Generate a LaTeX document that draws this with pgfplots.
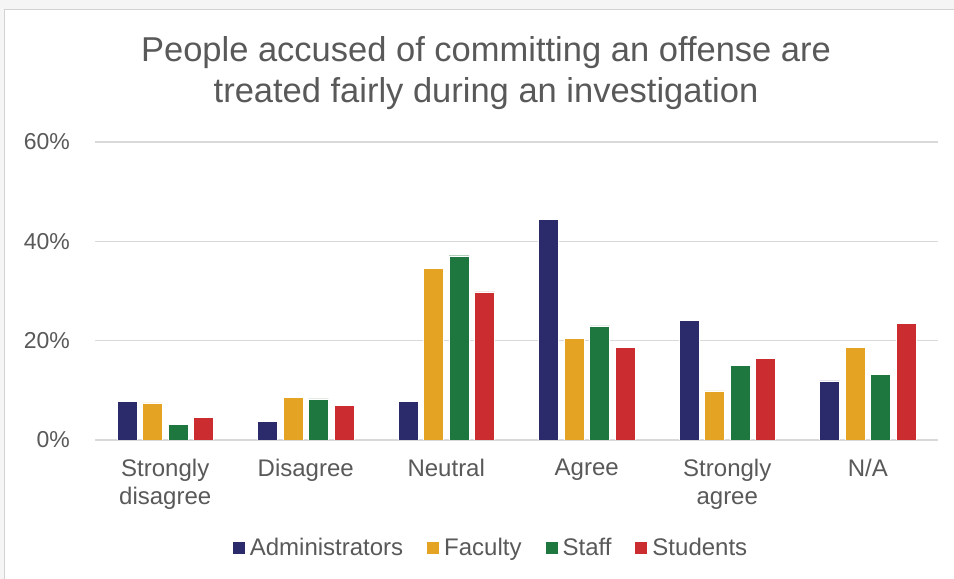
\documentclass[border=0pt]{standalone}
\usepackage{pgfplots}
\pgfplotsset{compat=1.18}
\usepackage{fontspec}
\setmainfont{Liberation Sans}
\definecolor{adm}{HTML}{2B2A6B}
\definecolor{fac}{HTML}{E4A323}
\definecolor{stf}{HTML}{1E773F}
\definecolor{stu}{HTML}{CB2C30}
\definecolor{txt}{HTML}{595959}
\definecolor{gridc}{HTML}{D9D9D9}
\begin{document}
\begin{tikzpicture}
\useasboundingbox (0,0) rectangle (954bp,579bp);
\fill[gray!8] (0,0) rectangle (954bp,579bp);
\filldraw[fill=white, draw=gray!35] (4bp,-2bp) rectangle (956bp,570bp);
\node[align=center, font=\fontsize{34.5bp}{41bp}\selectfont, text=txt] at (486bp,506bp)
  {People accused of committing an offense are\\treated fairly during an investigation};
\begin{axis}[
  at={(95bp,139bp)}, anchor=south west,
  scale only axis, width=843bp, height=298bp,
  ybar=5.5bp, bar width=20bp,
  ymin=0, ymax=60, xmin=-0.5, xmax=5.5,
  xtick={0,...,5},
  xticklabels={{Strongly\\disagree},Disagree,Neutral,Agree,{Strongly\\agree},N/A},
  ytick={0,20,40,60},
  yticklabel={\pgfmathprintnumber{\tick}\%},
  /pgf/number format/assume math mode=true,
  axis line style={draw=none},
  major tick length=0pt,
  ymajorgrids, grid style={gridc, line width=1.5bp},
  yticklabel style={anchor=east, inner sep=0pt, xshift=-25bp, text=txt, font=\fontsize{23bp}{27bp}\selectfont},
  xticklabel style={align=center, anchor=north, inner sep=0pt, yshift=-19bp, text=txt, font=\fontsize{24bp}{28bp}\selectfont},
  legend columns=4,
  legend style={draw=none, fill=none, at={(0.4698,-0.362)}, anchor=center,
    text=txt, font=\fontsize{24bp}{28bp}\selectfont,
    /tikz/every even column/.append style={column sep=22bp},
    /tikz/every odd column/.append style={column sep=3bp}},
  legend image code/.code={\fill[#1, draw=none] (0bp,-6bp) rectangle (12bp,6bp);},
]
\addplot[fill=adm, draw=white, line width=0.4bp] coordinates {(0,7.8) (1,3.7) (2,7.8) (3,44.4) (4,24.1) (5,11.9)};
\addplot[fill=fac, draw=white, line width=0.4bp] coordinates {(0,7.5) (1,8.6) (2,34.6) (3,20.5) (4,9.9) (5,18.6)};
\addplot[fill=stf, draw=white, line width=0.4bp] coordinates {(0,3.2) (1,8.3) (2,37.1) (3,23.0) (4,15.1) (5,13.2)};
\addplot[fill=stu, draw=white, line width=0.4bp] coordinates {(0,4.6) (1,7.0) (2,29.8) (3,18.6) (4,16.4) (5,23.5)};
\legend{Administrators,Faculty,Staff,Students}
\end{axis}
\end{tikzpicture}
\end{document}
